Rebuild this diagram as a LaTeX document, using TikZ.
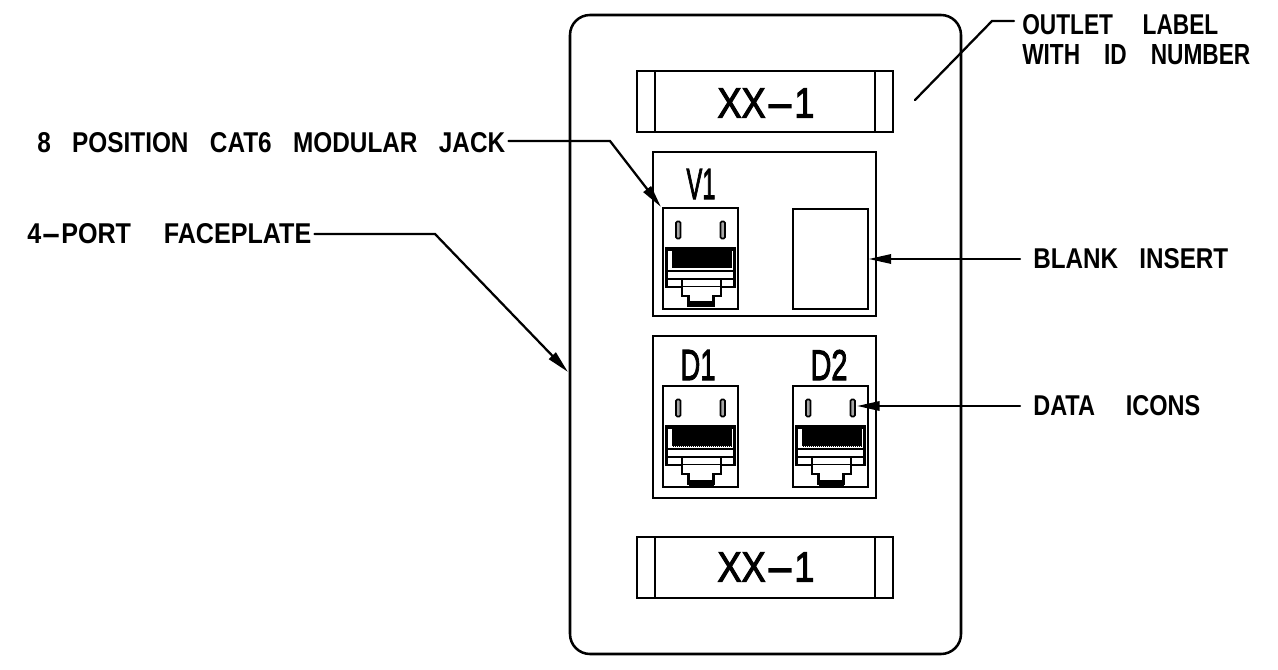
\documentclass[tikz,border=0pt]{standalone}
\usepackage{fontspec}
\setmainfont{Liberation Sans}
\newfontface\tagfont[FakeBold=2.6]{Liberation Sans}
\usetikzlibrary{arrows.meta}
\newdimen\pxunit \pxunit=0.75pt
\newcommand{\fitlbl}[3]{\resizebox{#1\pxunit}{#2\pxunit}{#3}}
\newcommand{\wdash}{\scalebox{2.4}[1]{-}}
\newcommand{\wsp}[1][0.6]{\ \hspace{#1em}}
\tikzset{
  px/.style={x=0.75pt,y=-0.75pt},
  heavy/.style={draw=black,line width=1.9pt},
  medium/.style={draw=black,line width=1.35pt},
  thin line/.style={draw=black,line width=0.85pt},
  leader/.style={draw=black,line width=1.7pt,line join=miter,line cap=round},
  tipped/.style={leader,-{Stealth[length=17pt,width=7pt,inset=0pt]}},
  lbl/.style={inner sep=0pt,anchor=west,font=\bfseries},
  tag/.style={inner sep=0pt,anchor=center,font=\tagfont},
  jack/.pic={
    \draw[thin line] (0,0) rectangle (75,101);
    \draw[draw=black,line width=1.2pt,rounded corners=1pt,fill=black!35] (13,13.5) rectangle (17.5,30.5);
    \draw[draw=black,line width=1.2pt,rounded corners=1pt,fill=black!35] (57.5,13.5) rectangle (62,30.5);
    \fill[black] (2,38.7) rectangle (73,43);
    \fill[black] (8.7,43) rectangle (68.7,60.5);
    \draw[draw=white,line width=0.5pt,densely dotted] (9,60.2) -- (68.5,60.2);
    \draw[medium,line width=1.9pt] (3.3,39) -- (3.3,79) (71.7,39) -- (71.7,79);
    \draw[medium,line width=1.6pt] (3,63) -- (72,63);
    \draw[medium,line width=1.6pt] (3,71) -- (72,71);
    \draw[medium,line width=1.7pt,line join=miter] (2.3,78.7) -- (19,78.7) -- (19,88) -- (25.5,88) -- (25.5,98) -- (50.5,98) -- (50.5,88) -- (58,88) -- (58,78.7) -- (72.7,78.7);
    \draw[medium,line width=1.7pt] (19,71) -- (19,78.7) (58,71) -- (58,78.7);
    \draw[thin line] (19,78.7) -- (58,78.7);
    \fill[black] (25.5,93.5) rectangle (50.5,99.5);
  }
}
\begin{document}
\begin{tikzpicture}[px]
\useasboundingbox (0,0) rectangle (1278,670);
\node[heavy,rounded corners=15pt,minimum width=391*0.75pt,minimum height=639*0.75pt,inner sep=0pt] (plate) at (765.5,334.5) {};
% labels
\node[medium,inner sep=0pt,minimum width=256*0.75pt,minimum height=61*0.75pt] (topstrip) at (765,101.5) {};
\draw[medium] (655,71) -- (655,132) (875,71) -- (875,132);
\node[tag] (toptxt) at (766,103) {\fitlbl{97}{29}{XX\wdash 1}};
\node[medium,inner sep=0pt,minimum width=256*0.75pt,minimum height=61*0.75pt] (botstrip) at (765,567.5) {};
\draw[medium] (655,537) -- (655,598) (875,537) -- (875,598);
\node[tag] (bottxt) at (766,567) {\fitlbl{97}{29}{XX\wdash 1}};
% boxes
\node[medium,inner sep=0pt,minimum width=223*0.75pt,minimum height=164*0.75pt] (upper) at (764.5,234) {};
\node[medium,inner sep=0pt,minimum width=223*0.75pt,minimum height=162*0.75pt] (lower) at (764.5,417) {};
\node[thin line,inner sep=0pt,minimum width=75*0.75pt,minimum height=100*0.75pt] (blank) at (830.5,259) {};
\pic at (663,208) {jack};
\pic at (663,386) {jack};
\pic at (793,386) {jack};
\node[tag] (v1) at (701,184) {\fitlbl{29}{30}{V1}};
\node[tag] (d1) at (698,365) {\fitlbl{35}{30}{D1}};
\node[tag] (d2) at (829,365) {\fitlbl{37}{30}{D2}};
% text labels
\node[lbl] (jacktxt) at (37,143) {\fitlbl{468}{20}{8\wsp POSITION\wsp CAT6\wsp MODULAR\wsp JACK}};
\node[lbl] (platetxt) at (27,234) {\fitlbl{284}{20}{4\wdash PORT\wsp[0.75] FACEPLATE}};
\node[lbl] (blanktxt) at (1033,259) {\fitlbl{195}{20}{BLANK\wsp INSERT}};
\node[lbl] (datatxt) at (1033,406) {\fitlbl{167}{20}{DATA\wsp[0.75] ICONS}};
\node[lbl] (outtxt) at (1022,24.5) {\fitlbl{196}{20}{OUTLET\wsp[0.75] LABEL}};
\node[lbl] (idtxt) at (1022,55) {\fitlbl{228}{20}{WITH\wsp[0.5] ID\wsp[0.5] NUMBER}};
% leader ends
\coordinate (jackend) at (661,207);
\coordinate (plateend) at (568,372);
\coordinate (blankend) at (blank.east);
\coordinate (dataend) at (857,406);
\coordinate (outend) at (915,100);
\draw[tipped] (jacktxt.east) ++(3,-2) -- (610,141) -- (jackend);
\draw[tipped] (platetxt.east) ++(3,0) -- (435,234) -- (plateend);
\draw[tipped] (blanktxt.west) ++(-13,0) -- (blankend);
\draw[tipped] (datatxt.west) ++(-13,0) -- (dataend);
\draw[leader] (outtxt.west) ++(-8,-3.5) -- (992,21) -- (outend);
\end{tikzpicture}
\end{document}
